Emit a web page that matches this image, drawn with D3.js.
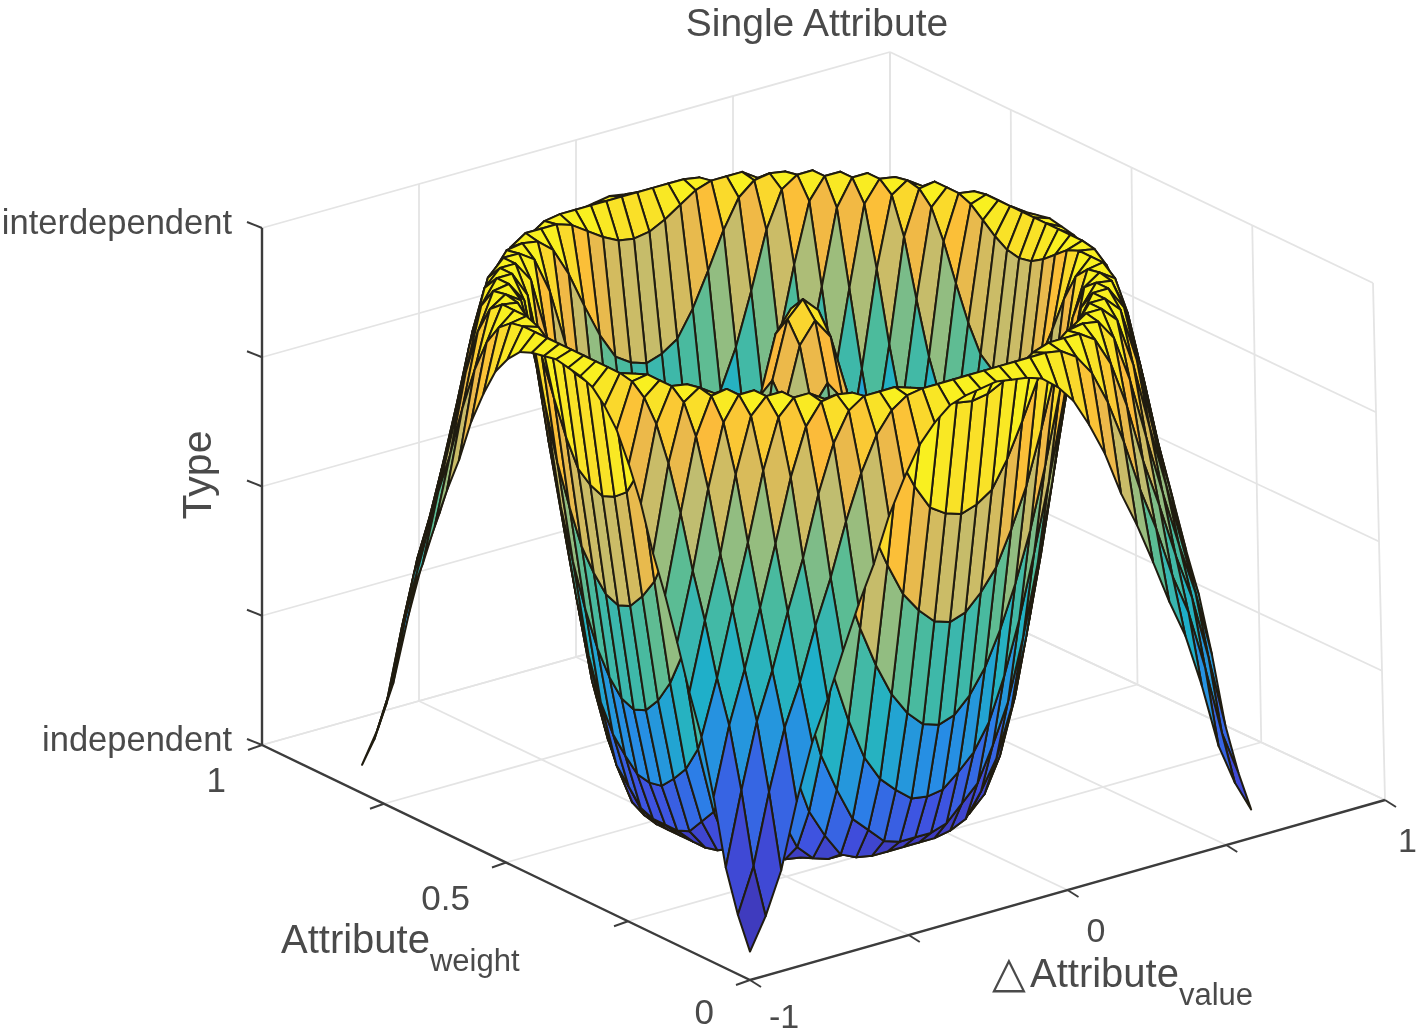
<!DOCTYPE html>
<html><head><meta charset="utf-8">
<script src="https://cdnjs.cloudflare.com/ajax/libs/d3/7.8.5/d3.min.js"></script>
<style>html,body{margin:0;background:#fff}svg{display:block;filter:blur(0.7px)}text{font-family:"Liberation Sans",Arial,sans-serif;fill:#4a4a4a}</style>
</head><body><svg id="c" width="1418" height="1036"></svg>
<script>
const titleText = "Single Attribute";
const xTicks = [-1,-0.5,0,0.5,1];
const xTickLabels = ["-1","","0","","1"];
const yTicks = [0,0.25,0.5,0.75,1];
const yTickLabels = ["0","","0.5","","1"];
const zTicks = [0,0.25,0.5,0.75,1];
const zTickLabels = ["independent","","","","interdependent"];
const xStep = 0.049375, yStep = 0.02484;
// heights, one quadrant of the symmetric surface
const zQuadrant = [
[1.0,.97,.86,.66,.40,.17,.055,.03,.03,.06,.15,.30,.51,.73,.96,1.03,1.02],
[.97,.93,.82,.61,.37,.155,.05,.03,.03,.06,.155,.31,.52,.74,.965,1.03,1.015],
[.86,.82,.70,.50,.28,.115,.04,.03,.03,.07,.18,.34,.55,.76,.98,1.03,1.01],
[.66,.61,.50,.34,.17,.07,.033,.03,.036,.10,.21,.385,.59,.81,1.0,1.03,1.0],
[.40,.37,.28,.17,.085,.04,.03,.03,.05,.13,.26,.45,.655,.875,1.02,1.03,.975],
[.17,.155,.115,.07,.04,.03,.03,.04,.095,.195,.34,.53,.73,.945,1.03,1.025,.94],
[.055,.05,.04,.033,.03,.03,.035,.07,.15,.27,.44,.625,.83,1.0,1.03,1.005,.885],
[.03,.03,.03,.03,.03,.04,.07,.135,.24,.385,.56,.74,.94,1.025,1.03,.965,.82],
[.03,.03,.03,.036,.05,.095,.15,.24,.37,.52,.69,.875,1.01,1.03,1.01,.90,.735],
[.06,.06,.07,.10,.13,.195,.27,.385,.52,.67,.835,.99,1.03,1.025,.955,.815,.665],
[.15,.155,.18,.21,.26,.34,.44,.56,.69,.835,.98,1.03,1.03,.985,.865,.715,.585],
[.30,.31,.34,.385,.45,.53,.625,.74,.875,.99,1.03,1.03,1.0,.895,.75,.63,.50],
[.51,.52,.55,.59,.655,.73,.83,.94,1.01,1.03,1.03,1.0,.905,.775,.655,.53,.425],
[.73,.74,.76,.81,.875,.945,1.0,1.025,1.03,1.025,.985,.895,.775,.66,.55,.45,.32],
[.96,.965,.98,1.0,1.02,1.03,1.03,1.03,1.01,.955,.865,.75,.655,.55,.46,.335,.195],
[1.03,1.03,1.03,1.03,1.03,1.025,1.005,.965,.90,.815,.715,.63,.53,.45,.335,.20,.115],
[1.02,1.015,1.01,1.0,.975,.94,.885,.82,.735,.665,.585,.50,.425,.32,.195,.115,.055]
];
const parulaStops = ["#3f2ea8","#3f50e0","#2888e8","#1fb0c8","#50bc98","#c0bd70","#fbb83c","#f9f020"];

const svg = d3.select("#c");
const X = d3.scaleLinear().domain([-1,1]).range([0,1]);
const Y = d3.scaleLinear().domain([0,1]).range([0,1]);
const Z = d3.scaleLinear().domain([0,1]).range([0,1]);
const colour = d3.scaleLinear().domain(parulaStops.map((_,i)=>i/7)).range(parulaStops).clamp(true);
function proj(x,y,z){
  const a=X(x),b=Y(y),c=Z(z);
  return [750+635*a-488*b-7*a*b-12*a*c*(1-b), 980-180*a-235*b+4*a*b-517*c];
}
const line = d3.line();
const seg=(g,p,q,col,w)=>g.append("path").attr("d",line([p,q])).attr("fill","none").attr("stroke",col).attr("stroke-width",w);

// back planes
const grid = svg.append("g");
const gc="#e4e4e4";
xTicks.forEach(t=>{ seg(grid,proj(t,0,0),proj(t,1,0),gc,1.8); seg(grid,proj(t,1,0),proj(t,1,1),gc,1.8); });
yTicks.forEach(t=>{ seg(grid,proj(-1,t,0),proj(1,t,0),gc,1.8); seg(grid,proj(1,t,0),proj(1,t,1),gc,1.8); });
zTicks.forEach(t=>{ seg(grid,proj(-1,1,t),proj(1,1,t),gc,1.8); seg(grid,proj(1,1,t),proj(1,0,t),gc,1.8); });

// axes
const ax = svg.append("g"), ac="#3c3c3c";
seg(ax,proj(-1,0,0),proj(1,0,0),ac,2.4);
seg(ax,proj(-1,0,0),proj(-1,1,0),ac,2.4);
seg(ax,proj(-1,1,0),proj(-1,1,1),ac,2.4);
xTicks.forEach(t=>{const p=proj(t,0,0); seg(ax,p,[p[0]+11,p[1]+7],ac,1.9);});
yTicks.forEach(t=>{const p=proj(-1,t,0); seg(ax,p,[p[0]-14,p[1]+5],ac,1.9);});
zTicks.forEach(t=>{const p=proj(-1,1,t); seg(ax,p,[p[0]-15,p[1]-6],ac,1.9);});

// surface
const n = 32;
const zAt=(i,j)=>zQuadrant[Math.abs(i-n/2)][Math.abs(j-n/2)];
const pt=(i,j)=>proj(-1+i*xStep,j*yStep,zAt(i,j));
const surf = svg.append("g");
for(let i=n-1;i>=0;i--) for(let j=n-1;j>=0;j--){
  surf.append("path")
    .attr("d",line([pt(i,j),pt(i+1,j),pt(i+1,j+1),pt(i,j+1)])+"Z")
    .attr("fill",colour(zAt(i,j)))
    .attr("stroke","#201c10").attr("stroke-width",2).attr("stroke-linejoin","round");
}

// labels
const txt=(x,y,s,size,anchor)=>svg.append("text").attr("x",x).attr("y",y).attr("font-size",size).attr("text-anchor",anchor||"middle").text(s);
txt(817,36,titleText,39);
const xLabelDx=[19,0,19,0,13], xLabelDy=[48,0,52,0,52];
xTicks.forEach((t,k)=>{ if(xTickLabels[k]){const p=proj(t,0,0); txt(p[0]+xLabelDx[k],p[1]+xLabelDy[k],xTickLabels[k],34,"start");} });
const yLabelDy=[44,0,47,0,47];
yTicks.forEach((t,k)=>{ if(yTickLabels[k]){const p=proj(-1,t,0); txt(p[0]-36,p[1]+yLabelDy[k],yTickLabels[k],35,"end");} });
zTicks.forEach((t,k)=>{ if(zTickLabels[k]){const p=proj(-1,1,t); txt(p[0]-30,p[1]+6,zTickLabels[k],34.5,"end");} });
svg.append("text").attr("transform","translate(211,475) rotate(-90)").attr("font-size",41).attr("text-anchor","middle").text("Type");
const a1=svg.append("text").attr("x",281).attr("y",953).attr("font-size",40);
a1.append("tspan").text("Attribute");
a1.append("tspan").attr("dy",18).attr("font-size",31).text("weight");
const a2=svg.append("text").attr("x",992).attr("y",987).attr("font-size",40);
a2.append("tspan").attr("font-size",44).text("\u25B3");
a2.append("tspan").attr("x",1030).text("Attribute");
a2.append("tspan").attr("dy",18).attr("font-size",31).text("value");
</script></body></html>
